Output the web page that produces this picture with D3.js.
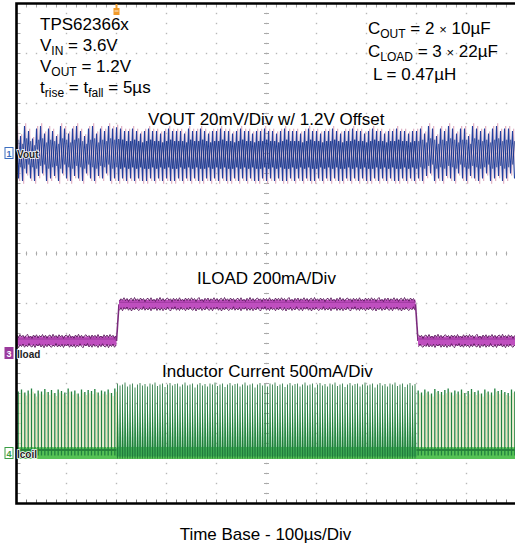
<!DOCTYPE html>
<html><head><meta charset="utf-8">
<script src="https://cdn.jsdelivr.net/npm/d3@7"></script>
<style>body{margin:0;background:#fff}svg{display:block}</style>
</head><body>
<script>
// ---------------- DATA ----------------
const timeDomain = [-200, 800];          // µs, 100 µs/div, trigger at 0
const timeStepUs = 100;                  // µs per division
const channelNames = ["Vout", "Iload", "Icoil"];
const channelNums = ["1", "3", "4"];
const channelPosDiv = [2, -2, -4];       // trace zero position (divisions)
const channelPerDiv = [20, 200, 500];    // mV/div, mA/div, mA/div
const voutOffsetMv = 1200;

// Vout ripple peaks / troughs (mV about 1.2 V), one pair per 8 µs
const voutHi = [10,7,11,9,6,10,11,8,10,9,7,11,10,8,10,11,9,7,10,11,8,10,9,11,10,
  10.5,10,9,9,10,9,8,9,10,9,9,8,9,10,9,9,9,8,10,9,9,10,9,8,9,9,10,9,9,8,
  9,10,9,9,8,9,9,10,9,9,8,9,10,9,9,9,8,9,10,9,9,8,9,9,10,9,8,9,9,10,
  9,9,8,9,10,9,9,8,9,9,10,9,9,8,9,
  9,10,8,11,10,7,10,9,11,10,8,10,10,7,11,10,9,10,8,10,11,9,10,10,9];
const voutLo = [-10,-11,-8,-10,-11,-9,-8,-11,-10,-9,-11,-8,-10,-11,-9,-10,-11,-8,-10,-11,-9,-10,-8,-11,-10,
  -11,-10,-11,-10,-11,-10,-11,-11,-10,-11,-10,-11,-10,-11,-11,-10,-11,-10,-11,-10,
  -11,-11,-10,-11,-10,-11,-10,-11,-11,-10,-11,-10,-11,-10,-11,-11,-10,-11,-10,-11,
  -10,-11,-11,-10,-11,-10,-11,-10,-11,-11,-10,-11,-10,-11,-10,-11,-11,-10,-11,-10,
  -11,-10,-11,-11,-10,-11,-10,-11,-10,-11,-11,-10,-11,-10,-11,
  -10,-11,-9,-8,-11,-10,-11,-9,-10,-11,-8,-10,-11,-9,-10,-11,-10,-8,-11,-10,-9,-11,-10,-8,-10];

// Load current step (mA)
const iloadT  = [-200, 0, 5, 598, 603, 800];
const iloadMa = [50, 50, 197, 197, 50, 50];
const iloadRipple = [6,-4,8,-2,5,-7,3,9,-5,2,-8,6,-3,7,-6,4,-2,8,-4,5,-7,3,6,-5,9,-3,4,-6,7,-2,
  5,-8,3,6,-4,8,-5,2,-7,6,-3,9,-4,5,-6,3,7,-2,4,-8,6,-3,5,-5,8,-4,2,-6,7,-3];

// Inductor current pulse peaks (mA)
const icoilSegStart = [-200, 0, 600];
const icoilSegEnd   = [0, 600, 800];
const icoilPkLeft = [620,640,610,630,650,600,630,620,645,615,635,605,640,625,610,650,620,630,600,640,
  615,635,625,645,610,630,620,640,605,650];
const icoilPkLoad = [700,680,690,710,670,690,700,660,690,705,680,695,670,700,690,710,675,690,700,665,
  690,705,680,695,700,670,690,710,680,690,700,660,690,705,680,695,670,700,690,710,
  675,690,700,665,690,705,680,695,700,670,690,710,680,690,700,660,690,705,680,695,
  670,700,690,710,675,690,700,665,690,705,680,695,700,670,690,710,680,690,700,660,
  690,705,680,695,670,700,690,710,675,690,700,665,690,705,680,695,700,670,690,710,
  680,690,700,660,690,705,680,695,670,700,690,710,675,690,700,665,690,705,680,695];
const icoilPkRight = [630,610,640,620,600,645,625,615,635,650,610,630,620,640,605,625,645,615,630,600,
  640,620,610,650,625,635,615,605,640,620];
const icoilBandMa = [-55, 65];

// ---------------- CHART ----------------
const W = 515, H = 546;
const FONT = "'Liberation Sans', Arial, sans-serif";
const svg = d3.select("body").append("svg").attr("width", W).attr("height", H)
  .style("font-family", FONT);

const P = {x0: 16.5, x1: 516.5, y0: 3.5, y1: 503.5};
const x = d3.scaleLinear().domain(timeDomain).range([P.x0, P.x1]);
const yDiv = d3.scaleLinear().domain([-5, 5]).range([P.y1, P.y0]);
const chScale = (k, off=0) => d3.scaleLinear()
  .domain([off + (-5 - channelPosDiv[k]) * channelPerDiv[k], off + (5 - channelPosDiv[k]) * channelPerDiv[k]])
  .range([P.y1, P.y0]);
const yVout = chScale(0, voutOffsetMv), yIload = chScale(1), yIcoil = chScale(2);

// grid dots
const g = svg.append("g");
const gridT = d3.range(timeDomain[0] + timeStepUs, timeDomain[1], timeStepUs);
const gridD = d3.range(-4, 5, 1);
const minorT = d3.range(timeDomain[0], timeDomain[1] + 0.1, timeStepUs / 5);
const minorD = d3.range(-5, 5.01, 0.2);
const dots = [];
gridT.forEach(t => minorD.forEach(d => dots.push([x(t), yDiv(d)])));
gridD.forEach(d => minorT.forEach(t => dots.push([x(t), yDiv(d)])));
g.selectAll("rect.dot").data(dots).join("rect").attr("class", "dot")
  .attr("x", d => d[0] - 0.7).attr("y", d => d[1] - 0.7).attr("width", 1.4).attr("height", 1.4)
  .attr("fill", "#b8b8b8");
// center crosshair ticks
const xc = x((timeDomain[0] + timeDomain[1]) / 2), yc = yDiv(0);
g.selectAll("line.ct").data(minorD).join("line").attr("class","ct")
  .attr("x1", xc - 2.5).attr("x2", xc + 2.5).attr("y1", d => yDiv(d)).attr("y2", d => yDiv(d))
  .attr("stroke", "#aaa").attr("stroke-width", 1);
g.selectAll("line.ch").data(minorT).join("line").attr("class","ch")
  .attr("y1", yc - 2).attr("y2", yc + 2).attr("x1", d => x(d)).attr("x2", d => x(d))
  .attr("stroke", "#aaa").attr("stroke-width", 1);
// border ticks
g.selectAll("line.bt").data(minorT).join("line").attr("class","bt")
  .attr("x1", d => x(d)).attr("x2", d => x(d)).attr("y1", P.y1).attr("y2", P.y1 - 4)
  .attr("stroke", "#777").attr("stroke-width", 1);
g.selectAll("line.tt").data(minorT).join("line").attr("class","tt")
  .attr("x1", d => x(d)).attr("x2", d => x(d)).attr("y1", P.y0).attr("y2", P.y0 + 4)
  .attr("stroke", "#aaa").attr("stroke-width", 1);
g.selectAll("line.lt").data(minorD).join("line").attr("class","lt")
  .attr("x1", P.x0).attr("x2", P.x0 + 4).attr("y1", d => yDiv(d)).attr("y2", d => yDiv(d))
  .attr("stroke", "#aaa").attr("stroke-width", 1);

// clip
svg.append("clipPath").attr("id", "clip").append("rect")
  .attr("x", P.x0).attr("y", P.y0).attr("width", P.x1 - P.x0).attr("height", P.y1 - P.y0);
const tr = svg.append("g").attr("clip-path", "url(#clip)");

// ---- Vout ----
const vPer = (timeDomain[1] - timeDomain[0]) / voutHi.length;
const vPts = [];
voutHi.forEach((h, i) => {
  const t = timeDomain[0] + i * vPer;
  vPts.push([t, h]);
  vPts.push([t + vPer / 2, voutLo[i]]);
});
const vLine = d3.line().x(d => x(d[0])).y(d => yVout(voutOffsetMv + d[1]));
// persistence (pink) trace, slightly offset in time, reaching the tips
tr.append("path").attr("d", vLine(vPts.map(d => [d[0] + vPer * 0.3, d[1] * 1.1])))
  .attr("fill", "none").attr("stroke", "#cf8aa6").attr("stroke-width", 0.8).attr("opacity", 0.6);
tr.append("path").attr("d", vLine(vPts))
  .attr("fill", "none").attr("stroke", "#1f3f9e").attr("stroke-width", 1.1);
// denser core
tr.append("path").attr("d", vLine(vPts.map(d => [d[0] + vPer * 0.55, d[1] * 0.55])))
  .attr("fill", "none").attr("stroke", "#1a3585").attr("stroke-width", 1)
  .attr("opacity", 0.55);
tr.append("path").attr("d", vLine(vPts.filter(d => d[0] >= 0 && d[0] < 600).map(d => [d[0] + vPer * 0.55, d[1] * 0.55])))
  .attr("fill", "none").attr("stroke", "#1a3585").attr("stroke-width", 1).attr("opacity", 0.6);

// ---- Iload ----
const il = d3.line().x(d => x(d[0])).y(d => yIload(d[1]));
const iPts = iloadT.map((t, i) => [t, iloadMa[i]]);
for (let s = 0; s < iloadT.length - 1; s++) {
  const seg = [iPts[s], iPts[s + 1]];
  if (iloadMa[s] !== iloadMa[s + 1]) {
    tr.append("path").attr("d", il(seg)).attr("fill", "none").attr("stroke", "#7a2a7c").attr("stroke-width", 1.6);
    continue;
  }
  tr.append("path").attr("d", il(seg)).attr("fill", "none").attr("stroke", "#bf4fbf").attr("stroke-width", 9);
  const ts = d3.range(iloadT[s] + 1, iloadT[s + 1], 3);
  const n = iloadRipple.length;
  const top = ts.map((t, k) => [t, iloadMa[s] + 18 + iloadRipple[(k + s * 7) % n]]);
  const bot = ts.map((t, k) => [t, iloadMa[s] - 18 - iloadRipple[(k + 23 + s * 5) % n]]);
  tr.append("path").attr("d", il(top)).attr("fill", "none").attr("stroke", "#5b1a5e").attr("stroke-width", 0.9);
  tr.append("path").attr("d", il(bot)).attr("fill", "none").attr("stroke", "#5b1a5e").attr("stroke-width", 0.9);
  tr.append("path").attr("d", il([[iloadT[s], iloadMa[s] + 8], [iloadT[s + 1], iloadMa[s] + 8]]))
    .attr("fill", "none").attr("stroke", "#8d2f8f").attr("stroke-width", 1.2).attr("opacity", 0.7);
}

// ---- Icoil ----
tr.append("rect").attr("x", x(timeDomain[0])).attr("width", x(timeDomain[1]) - x(timeDomain[0]))
  .attr("y", yIcoil(icoilBandMa[1])).attr("height", yIcoil(icoilBandMa[0]) - yIcoil(icoilBandMa[1]))
  .attr("fill", "#55c255");
const icoilPeaks = [icoilPkLeft, icoilPkLoad, icoilPkRight];
icoilPeaks.forEach((pks, s) => {
  const p = (icoilSegEnd[s] - icoilSegStart[s]) / pks.length;
  const heavy = s === 1;
  const gg = tr.append("g");
  if (!heavy) {
    gg.append("line").attr("x1", x(icoilSegStart[s])).attr("x2", x(icoilSegEnd[s]))
      .attr("y1", yIcoil(35)).attr("y2", yIcoil(35)).attr("stroke", "#1f6e30").attr("stroke-width", 1.4);
    pks.forEach((pk, i) => {
      const t = icoilSegStart[s] + (i + 0.5) * p;
      gg.append("line").attr("x1", x(t + p * 0.5)).attr("x2", x(t + p * 0.5))
        .attr("y1", yIcoil(60)).attr("y2", yIcoil(pk * 0.95)).attr("stroke", "#ece4b4").attr("stroke-width", 1);
      gg.append("line").attr("x1", x(t)).attr("x2", x(t))
        .attr("y1", yIcoil(-20)).attr("y2", yIcoil(pk)).attr("stroke", "#21813f").attr("stroke-width", 1.3);
    });
  } else {
    pks.forEach((pk, i) => {
      const t = icoilSegStart[s] + (i + 0.5) * p;
      const tri = [[t - p * 0.5, -30], [t - p * 0.1, pk], [t + p * 0.5, -30]];
      gg.append("path").attr("d", d3.line().x(d => x(d[0])).y(d => yIcoil(d[1]))(tri) + "Z")
        .attr("fill", "#33a052");
      gg.append("line").attr("x1", x(t - p * 0.1)).attr("x2", x(t - p * 0.1))
        .attr("y1", yIcoil(-50)).attr("y2", yIcoil(pk)).attr("stroke", "#1d7036").attr("stroke-width", 0.8);
    });
  }
});

// frame
svg.append("path").attr("d", `M${W + 5},${P.y0} H${P.x0} V${P.y1} H${W + 5}`)
  .attr("fill", "none").attr("stroke", "#000").attr("stroke-width", 2.6);

// trigger marker
const xt = x(0);
svg.append("rect").attr("x", xt - 1).attr("y", 4).attr("width", 2).attr("height", 4).attr("fill", "#f0a030");
svg.append("rect").attr("x", xt - 3).attr("y", 8).attr("width", 6).attr("height", 7).attr("fill", "#f29a28");
svg.append("line").attr("x1", xt - 2).attr("x2", xt + 2).attr("y1", 11).attr("y2", 11).attr("stroke", "#fff").attr("stroke-width", 0.8);

// channel markers
const chY = [yVout(voutOffsetMv), yIload(0), yIcoil(0)];
const chCol = ["#3d6fc0", "#9b3a9c", "#3a9e45"];
chY.forEach((yy, k) => {
  const filled = k === 1;
  svg.append("rect").attr("x", 5).attr("y", yy - 6).attr("width", 8).attr("height", 11)
    .attr("fill", filled ? chCol[k] : "#fff").attr("stroke", chCol[k]).attr("stroke-width", 1);
  svg.append("text").attr("x", 9).attr("y", yy + 3).attr("text-anchor", "middle")
    .attr("font-size", 9).attr("font-weight", "bold").attr("fill", filled ? "#fff" : chCol[k]).text(channelNums[k]);
  svg.append("text").attr("x", 17).attr("y", yy + 4).attr("font-size", 10).attr("font-weight", "bold")
    .attr("fill", "#222").attr("stroke", "#fff").attr("stroke-width", 1.5).attr("paint-order", "stroke")
    .attr("font-family", "'Liberation Sans Narrow', 'Liberation Sans', Arial").text(channelNames[k]);
});

// text annotations
function rich(xp, yp, parts, size = 17) {
  const t = svg.append("text").attr("x", xp).attr("y", yp).attr("font-size", size).attr("fill", "#000");
  let shift = 0;
  parts.forEach(p => {
    const ts = t.append("tspan").text(p[0]);
    const target = p[1] === "sub" ? 4 : 0;
    if (target !== shift) { ts.attr("dy", target - shift); shift = target; }
    if (p[1] === "sub") ts.attr("font-size", 12);
    if (p[1] === "x") ts.attr("font-size", 13);
  });
  return t;
}
rich(40, 30, [["TPS62366x"]]);
rich(40, 51, [["V"], ["IN", "sub"], [" = 3.6V"]]);
rich(40, 72, [["V"], ["OUT", "sub"], [" = 1.2V"]]);
rich(40, 93, [["t"], ["rise", "sub"], [" = t"], ["fall", "sub"], [" = 5µs"]]);
rich(368, 34, [["C"], ["OUT", "sub"], [" = 2 "], ["×", "x"], [" 10µF"]]);
rich(368, 57, [["C"], ["LOAD", "sub"], [" = 3 "], ["×", "x"], [" 22µF"]]);
rich(373, 80, [["L = 0.47µH"]]);
rich(148, 125, [["VOUT 20mV/Div w/ 1.2V Offset"]]);
rich(197, 284, [["ILOAD 200mA/Div"]]);
rich(162, 377, [["Inductor Current 500mA/Div"]]);
svg.append("text").attr("x", xc - 1).attr("y", 540).attr("text-anchor", "middle")
  .attr("font-size", 17).text("Time Base - 100µs/Div");
</script>
</body></html>
